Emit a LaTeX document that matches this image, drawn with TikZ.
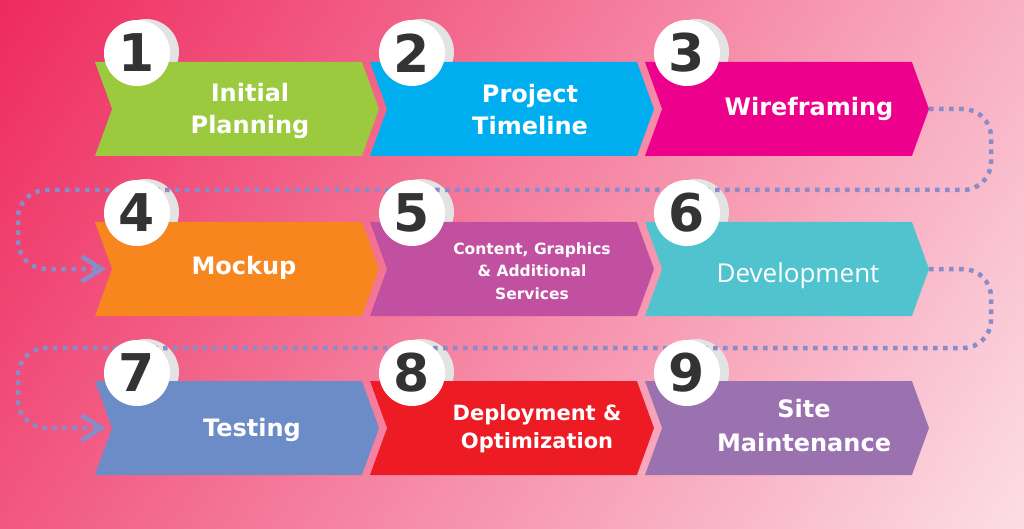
\documentclass[tikz,border=0pt]{standalone}
\usepackage{fontspec}
\setmainfont{DejaVu Sans}
\newfontfamily\devfont{Open Sans}
\usetikzlibrary{positioning,shapes.symbols,arrows.meta}
\definecolor{bgleft}{RGB}{238,42,94}
\definecolor{bgright}{RGB}{252,222,230}
\definecolor{numgray}{RGB}{51,51,51}
\definecolor{dotblue}{RGB}{138,140,200}
\definecolor{planA}{RGB}{155,202,62}
\definecolor{timeB}{RGB}{0,174,239}
\definecolor{wireC}{RGB}{236,0,140}
\definecolor{mockD}{RGB}{247,134,31}
\definecolor{contE}{RGB}{193,80,160}
\definecolor{devF}{RGB}{80,195,207}
\definecolor{testG}{RGB}{108,140,199}
\definecolor{depH}{RGB}{237,28,36}
\definecolor{siteI}{RGB}{155,114,176}

\begin{document}
\begin{tikzpicture}[x=1pt,y=-1pt,
chev/.style ={signal ,signal from=west ,signal to=east ,signal pointer angle=140 ,
minimum width=284pt ,minimum height=94pt ,inner sep=0pt},
badge/.style ={circle ,fill=white ,minimum size=66pt ,inner sep=0pt ,
text=numgray ,font=\bfseries\fontsize{52}{52}\selectfont},
halo/.style ={fill=black!11},
steptext/.style ={text=white ,align=center ,font=\bfseries\fontsize{24}{32}\selectfont},
flow/.style ={dotblue ,line width=4.5pt ,dash pattern=on 4.5pt off 5.5pt ,rounded corners=28pt ,
-{Straight Barb[length=20pt,width=25pt]}}]
\useasboundingbox (0,0) rectangle (1024,529);
\begin{scope}
\clip (0,0) rectangle (1024,529);
\shade[left color=bgleft ,right color=bgright ,transform canvas={rotate around={-33:(512,264.5)}}]
(-62,-237) rectangle (1086,766);
\end{scope}

% shadows of the number badges
\fill[halo] (146,52) circle (33pt);
\fill[halo] (421,52) circle (33pt);
\fill[halo] (696,52) circle (33pt);
\fill[halo] (146,212) circle (33pt);
\fill[halo] (421,212) circle (33pt);
\fill[halo] (696,212) circle (33pt);
\fill[halo] (146,372) circle (33pt);
\fill[halo] (421,372) circle (33pt);
\fill[halo] (696,372) circle (33pt);

\node[chev ,fill=planA] (c1) at (237,109) {};
\node[chev ,fill=timeB] (c2) at (512,109) {};
\node[chev ,fill=wireC] (c3) at (787,109) {};
\node[chev ,fill=mockD] (c4) at (237,269) {};
\node[chev ,fill=contE] (c5) at (512,269) {};
\node[chev ,fill=devF] (c6) at (787,269) {};
\node[chev ,fill=testG] (c7) at (237,428) {};
\node[chev ,fill=depH] (c8) at (512,428) {};
\node[chev ,fill=siteI] (c9) at (787,428) {};

\coordinate (r1) at (991,190);
\coordinate (l1) at (18,190);
\coordinate (r2) at (991,348);
\coordinate (l2) at (18,348);
\draw[flow] (c3.east) -| (r1) -- (l1) |- ([xshift=-6pt]c4.west);
\draw[flow] (c6.east) -| (r2) -- (l2) |- ([xshift=-6pt]c7.west);

\node[badge] (n1) at (137,53) {1};
\node[badge] (n2) at (412,53) {2};
\node[badge] (n3) at (687,53) {3};
\node[badge] (n4) at (137,213) {4};
\node[badge] (n5) at (412,213) {5};
\node[badge] (n6) at (687,213) {6};
\node[badge] (n7) at (137,373) {7};
\node[badge] (n8) at (412,373) {8};
\node[badge] (n9) at (687,373) {9};

\node[steptext] (t1) at (250,110.5) {Initial\\Planning};
\node[steptext] (t2) at (530,110) {Project\\Timeline};
\node[steptext] (t3) at (809,109) {Wireframing};
\node[steptext] (t4) at (244,268) {Mockup};
\node[steptext ,font=\bfseries\fontsize{15.5}{22.5}\selectfont] (t5) at (532,271)
{Content, Graphics\\\& Additional\\Services};
\node[text=white ,font=\devfont\fontsize{26}{30}\selectfont] (t6) at (798,276) {Development};
\node[steptext] (t7) at (252,430) {Testing};
\node[steptext ,font=\bfseries\fontsize{21}{28.5}\selectfont] (t8) at (537,428.5)
{Deployment \&\\Optimization};
\node[steptext ,font=\bfseries\fontsize{24}{34}\selectfont] (t9) at (804,426) {Site\\Maintenance};
\end{tikzpicture}
\end{document}
